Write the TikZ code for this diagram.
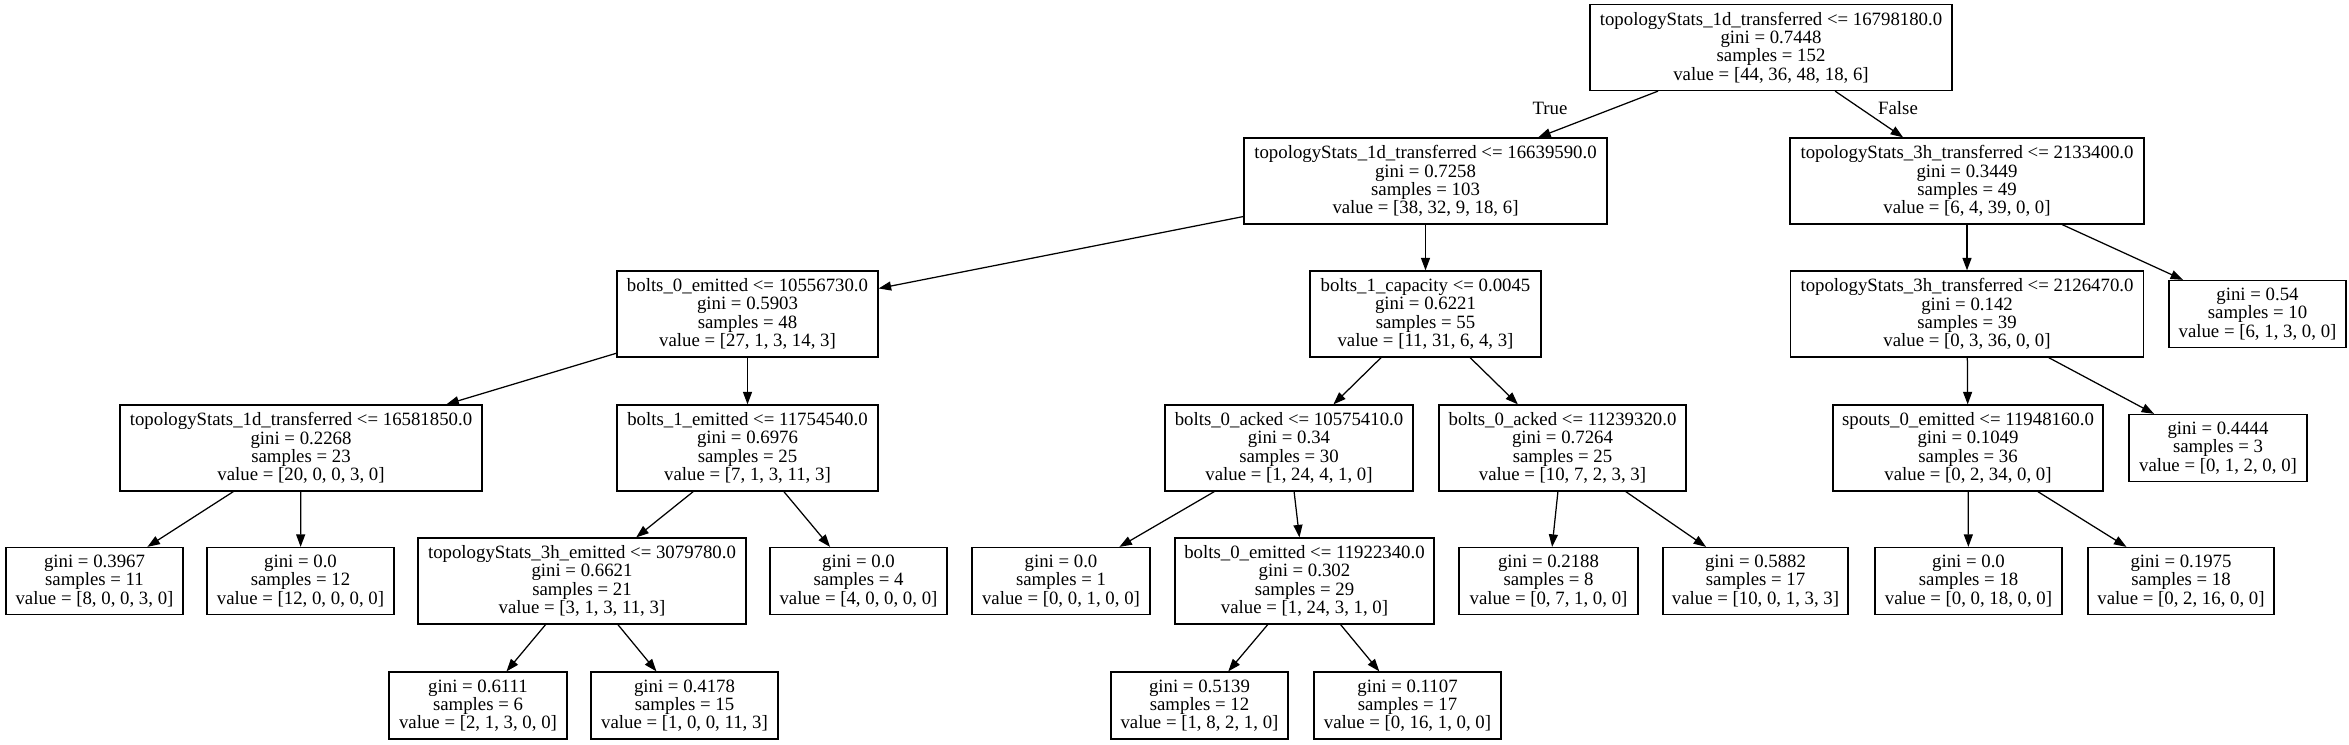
\documentclass[tikz,border=0pt]{standalone}
\usepackage{fontspec}
\setmainfont{Liberation Serif}
\usetikzlibrary{arrows.meta}

\tikzset{
    split/.style={draw, line width=1.25pt, align=center, inner sep=0pt,
        minimum height=86pt, font=\fontsize{18.8}{18.3}\selectfont},
    leaf/.style={split, minimum height=67pt},
    branch/.style={line width=1.25pt, -{Triangle[length=12.5pt,width=9pt]}},
    lbl/.style={font=\fontsize{18.8}{18.3}\selectfont}
}

\begin{document}
\begin{tikzpicture}[x=1pt, y=-1pt]
    \useasboundingbox (0,0) rectangle (2349,744);

    % rank 0 and 1
    \node[split, minimum width=362pt] (n0) at (1771,47.5) {topologyStats\_1d\_transferred <= 16798180.0\\gini = 0.7448\\samples = 152\\value = [44, 36, 48, 18, 6]};
    \node[split, minimum width=363pt] (n1) at (1425.5,181) {topologyStats\_1d\_transferred <= 16639590.0\\gini = 0.7258\\samples = 103\\value = [38, 32, 9, 18, 6]};
    \node[split, minimum width=354pt] (n20) at (1967,181) {topologyStats\_3h\_transferred <= 2133400.0\\gini = 0.3449\\samples = 49\\value = [6, 4, 39, 0, 0]};

    % rank 2
    \node[split, minimum width=261pt] (n2) at (747.5,314) {bolts\_0\_emitted <= 10556730.0\\gini = 0.5903\\samples = 48\\value = [27, 1, 3, 14, 3]};
    \node[split, minimum width=231pt] (n11) at (1425.5,314) {bolts\_1\_capacity <= 0.0045\\gini = 0.6221\\samples = 55\\value = [11, 31, 6, 4, 3]};
    \node[split, minimum width=353pt] (n21) at (1967,314) {topologyStats\_3h\_transferred <= 2126470.0\\gini = 0.142\\samples = 39\\value = [0, 3, 36, 0, 0]};
    \node[leaf, minimum width=177pt] (n26) at (2257.5,314) {gini = 0.54\\samples = 10\\value = [6, 1, 3, 0, 0]};

    % rank 3
    \node[split, minimum width=362pt] (n3) at (301,448) {topologyStats\_1d\_transferred <= 16581850.0\\gini = 0.2268\\samples = 23\\value = [20, 0, 0, 3, 0]};
    \node[split, minimum width=261pt] (n6) at (747.5,448) {bolts\_1\_emitted <= 11754540.0\\gini = 0.6976\\samples = 25\\value = [7, 1, 3, 11, 3]};
    \node[split, minimum width=248pt] (n12) at (1289,448) {bolts\_0\_acked <= 10575410.0\\gini = 0.34\\samples = 30\\value = [1, 24, 4, 1, 0]};
    \node[split, minimum width=247pt] (n17) at (1562.5,448) {bolts\_0\_acked <= 11239320.0\\gini = 0.7264\\samples = 25\\value = [10, 7, 2, 3, 3]};
    \node[split, minimum width=270pt] (n22) at (1968,448) {spouts\_0\_emitted <= 11948160.0\\gini = 0.1049\\samples = 36\\value = [0, 2, 34, 0, 0]};
    \node[leaf, minimum width=178pt] (n25) at (2218,448) {gini = 0.4444\\samples = 3\\value = [0, 1, 2, 0, 0]};

    % rank 4
    \node[leaf, minimum width=177pt] (n4) at (94.5,581) {gini = 0.3967\\samples = 11\\value = [8, 0, 0, 3, 0]};
    \node[leaf, minimum width=187pt] (n5) at (300.5,581) {gini = 0.0\\samples = 12\\value = [12, 0, 0, 0, 0]};
    \node[split, minimum width=328pt] (n7) at (582,581) {topologyStats\_3h\_emitted <= 3079780.0\\gini = 0.6621\\samples = 21\\value = [3, 1, 3, 11, 3]};
    \node[leaf, minimum width=177pt] (n10) at (858.5,581) {gini = 0.0\\samples = 4\\value = [4, 0, 0, 0, 0]};
    \node[leaf, minimum width=178pt] (n13) at (1061,581) {gini = 0.0\\samples = 1\\value = [0, 0, 1, 0, 0]};
    \node[split, minimum width=259pt] (n14) at (1304.5,581) {bolts\_0\_emitted <= 11922340.0\\gini = 0.302\\samples = 29\\value = [1, 24, 3, 1, 0]};
    \node[leaf, minimum width=179pt] (n18) at (1548.5,581) {gini = 0.2188\\samples = 8\\value = [0, 7, 1, 0, 0]};
    \node[leaf, minimum width=185pt] (n19) at (1755.5,581) {gini = 0.5882\\samples = 17\\value = [10, 0, 1, 3, 3]};
    \node[leaf, minimum width=187pt] (n23) at (1968.5,581) {gini = 0.0\\samples = 18\\value = [0, 0, 18, 0, 0]};
    \node[leaf, minimum width=186pt] (n24) at (2181,581) {gini = 0.1975\\samples = 18\\value = [0, 2, 16, 0, 0]};

    % rank 5
    \node[leaf, minimum width=178pt] (n8) at (478,705.5) {gini = 0.6111\\samples = 6\\value = [2, 1, 3, 0, 0]};
    \node[leaf, minimum width=187pt] (n9) at (684.5,705.5) {gini = 0.4178\\samples = 15\\value = [1, 0, 0, 11, 3]};
    \node[leaf, minimum width=177pt] (n15) at (1199.5,705.5) {gini = 0.5139\\samples = 12\\value = [1, 8, 2, 1, 0]};
    \node[leaf, minimum width=187pt] (n16) at (1407.5,705.5) {gini = 0.1107\\samples = 17\\value = [0, 16, 1, 0, 0]};

    \node[lbl] (truelbl) at (1550,108) {True};
    \node[lbl] (falselbl) at (1898,108) {False};

    \foreach \u/\v in {%
        0/1, 0/20,
        1/2, 1/11,
        2/3, 2/6,
        3/4, 3/5,
        6/7, 6/10,
        7/8, 7/9,
        11/12, 11/17,
        12/13, 12/14,
        14/15, 14/16,
        17/18, 17/19,
        20/21, 20/26,
        21/22, 21/25,
        22/23, 22/24%
        }{
        \draw[branch] (n\u) -- (n\v);
    }
\end{tikzpicture}
\end{document}
